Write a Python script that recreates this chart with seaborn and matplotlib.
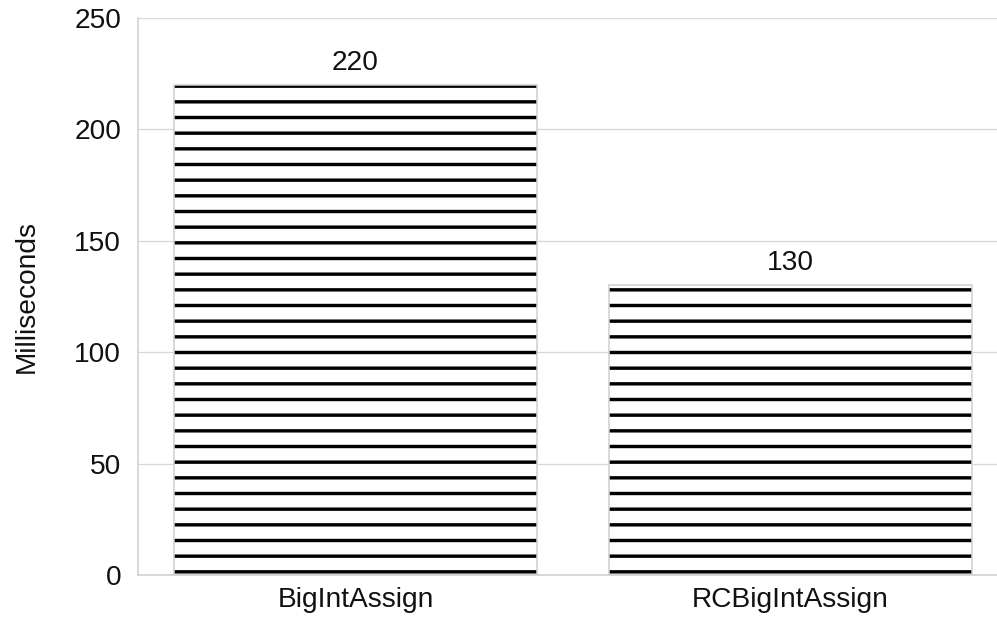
import seaborn as sns
import pandas as pd
import matplotlib.pyplot as plt

benchmarks = ['BigIntAssign', 'RCBigIntAssign']
ms = [220, 130]

df = pd.DataFrame({'benchmark': benchmarks, 'ms': ms})

sns.set_theme(style='whitegrid')
plt.rcParams['font.family'] = ['Liberation Sans', 'DejaVu Sans']
plt.rcParams['hatch.linewidth'] = 2.6

fs = 21.5
fig = plt.figure(figsize=(997 / 94, 621 / 94), dpi=94)
ax = fig.add_axes([0.1384, 0.0741, 0.8616, 0.8969])

# hatched fill (hatch takes the edge colour)
sns.barplot(data=df, x='benchmark', y='ms', color='white', edgecolor='black',
            linewidth=0, hatch='-', width=0.834, ax=ax)
# light grey outline on top
sns.barplot(data=df, x='benchmark', y='ms', facecolor='none', edgecolor='#d0d0d0',
            linewidth=1.2, width=0.834, ax=ax)

for bar, v in zip(ax.patches[:len(ms)], ms):
    ax.annotate(str(v), (bar.get_x() + bar.get_width() / 2, v),
                xytext=(0, 7), textcoords='offset points',
                ha='center', va='bottom', fontsize=fs, color='#111111')

ax.set_ylim(0, 250)
ax.set_xlim(-0.5, 1.475)
ax.set_yticks(range(0, 251, 50))
ax.set_xlabel('')
ax.set_ylabel('Milliseconds', fontsize=fs, labelpad=26, color='#111111')
ax.tick_params(axis='both', labelsize=fs, colors='#111111', length=0)
ax.tick_params(axis='y', pad=13)
ax.tick_params(axis='x', pad=9)
ax.grid(axis='x', visible=False)
ax.grid(axis='y', color='#d8d8d8', linewidth=1)
for s in ['top', 'right']:
    ax.spines[s].set_visible(False)
for s in ['left', 'bottom']:
    ax.spines[s].set_color('#cfcfcf')
    ax.spines[s].set_linewidth(1.2)

fig.savefig('out.png', dpi=94, facecolor='white')
